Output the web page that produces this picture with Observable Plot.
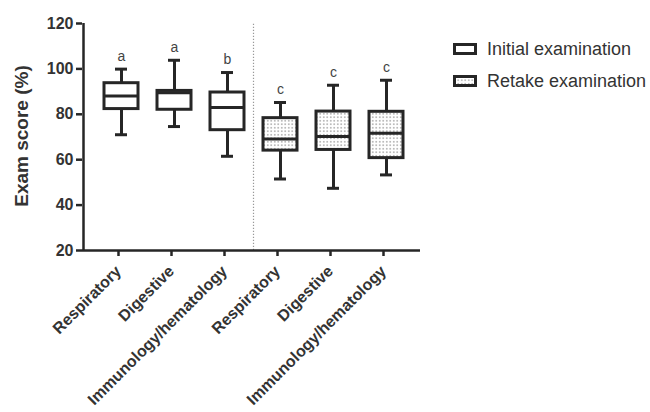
<!DOCTYPE html>
<html>
<head>
<meta charset="utf-8">
<script src="https://cdn.jsdelivr.net/npm/d3@7"></script>
<script src="https://cdn.jsdelivr.net/npm/@observablehq/plot@0.6"></script>
<style>
  body { margin: 0; background: #fff; font-family: "Liberation Sans", Arial, sans-serif; }
  #wrap { position: relative; width: 650px; height: 412px; }
  #legend { position: absolute; left: 453px; top: 33px; font-size: 18px; color: #333; }
  .item { display: flex; align-items: center; height: 32px; }
  .item svg { margin-right: 10px; }
</style>
</head>
<body>
<div id="wrap">
  <div id="chart"></div>
  <div id="legend">
    <div class="item"><svg width="24" height="12"><rect x="1.5" y="1.5" width="21" height="9" fill="#fff" stroke="#262626" stroke-width="3"/></svg>Initial examination</div>
    <div class="item"><svg width="24" height="12"><defs><pattern id="ldots" width="3.5" height="3.5" patternUnits="userSpaceOnUse"><rect width="3.5" height="3.5" fill="#fff"/><circle cx="1.75" cy="1.75" r="0.6" fill="#555"/></pattern></defs><rect x="1.5" y="1.5" width="21" height="9" fill="url(#ldots)" stroke="#262626" stroke-width="3"/></svg>Retake examination</div>
  </div>
</div>
<script>
// Data
const exams = ["Initial", "Initial", "Initial", "Retake", "Retake", "Retake"];
const systems = ["Respiratory", "Digestive", "Immunology/hematology", "Respiratory", "Digestive", "Immunology/hematology"];
const mins    = [71.0, 74.6, 61.5, 51.5, 47.4, 53.3];
const q1s     = [82.3, 82.0, 73.0, 64.0, 64.3, 60.7];
const medians = [88.1, 89.5, 83.0, 69.1, 70.2, 71.6];
const q3s     = [93.7, 90.3, 89.6, 78.3, 81.2, 81.1];
const maxs    = [99.9, 103.8, 98.4, 85.2, 92.8, 95.0];
const letters = ["a", "a", "b", "c", "c", "c"];
const yTicks  = [20, 40, 60, 80, 100, 120];

const rows = exams.map((e, i) => ({
  key: e + "|" + systems[i],
  exam: e,
  system: systems[i],
  min: mins[i], q1: q1s[i], median: medians[i], q3: q3s[i], max: maxs[i],
  letter: letters[i]
}));
const keys = rows.map(d => d.key);
const ink = "#262626";
const fillFor = d => d.exam === "Initial" ? "#fff" : "url(#dots)";

const plot = Plot.plot({
  width: 650,
  height: 412,
  marginLeft: 82,
  marginRight: 230,
  marginTop: 23,
  marginBottom: 162,
  style: { fontFamily: "'Liberation Sans', Arial, sans-serif", color: "#333", background: "#fff" },
  x: { domain: keys, paddingInner: 0.35, paddingOuter: 0.33, align: 0.58, label: null, axis: null },
  y: { domain: [20, 120], ticks: yTicks, label: null, axis: null },
  marks: [
    // separator between initial and retake
    Plot.ruleX(["Retake|Respiratory"], { x: d => d, y1: 20, y2: 120, dx: -27, stroke: "#999", strokeWidth: 1.2, strokeDasharray: "1.2,1.8" }),
    // whiskers
    Plot.ruleX(rows, { x: "key", y1: "min", y2: "max", stroke: ink, strokeWidth: 3 }),
    Plot.tickY(rows, { x: "key", y: "min", stroke: ink, strokeWidth: 3, insetLeft: 11, insetRight: 11 }),
    Plot.tickY(rows, { x: "key", y: "max", stroke: ink, strokeWidth: 3, insetLeft: 11, insetRight: 11 }),
    // boxes
    Plot.barY(rows, { x: "key", y1: "q1", y2: "q3", fill: fillFor, stroke: ink, strokeWidth: 3 }),
    Plot.tickY(rows, { x: "key", y: "median", stroke: ink, strokeWidth: 3 }),
    // significance letters
    Plot.text(rows, { x: "key", y: "max", text: "letter", dy: -13, fontSize: 14, fill: "#444" }),
    // y axis
    Plot.ruleX([0], { x: () => keys[0], y1: 20, y2: 120, dx: -38, stroke: ink, strokeWidth: 2.5 }),
    Plot.axisY({ ticks: yTicks, tickSize: 6, tickPadding: 3, stroke: ink, strokeWidth: 2.5, fontSize: 16, fontWeight: "bold", fill: "#333", label: null }),
    // x axis
    Plot.ruleY([20], { stroke: ink, strokeWidth: 2.5 }),
    Plot.axisX({ tickSize: 6, tickRotate: -45, tickPadding: 12, dx: -3, stroke: ink, strokeWidth: 2.5, fontSize: 16, fontWeight: "bold", fill: "#333", label: null, tickFormat: k => k.split("|")[1] })
  ]
});

// dotted pattern for retake boxes
const ns = "http://www.w3.org/2000/svg";
const defs = document.createElementNS(ns, "defs");
defs.innerHTML = '<pattern id="dots" width="3.5" height="3.5" patternUnits="userSpaceOnUse"><rect width="3.5" height="3.5" fill="#fff"/><circle cx="1.75" cy="1.75" r="0.65" fill="#555"/></pattern>';
plot.insertBefore(defs, plot.firstChild);

// y-axis title
const title = document.createElementNS(ns, "text");
title.setAttribute("transform", "translate(21,136) rotate(-90)");
title.setAttribute("text-anchor", "middle");
title.setAttribute("dominant-baseline", "central");
title.setAttribute("font-size", "19");
title.setAttribute("font-weight", "bold");
title.setAttribute("fill", "#333");
title.textContent = "Exam score (%)";
plot.appendChild(title);

document.getElementById("chart").appendChild(plot);
</script>
</body>
</html>
